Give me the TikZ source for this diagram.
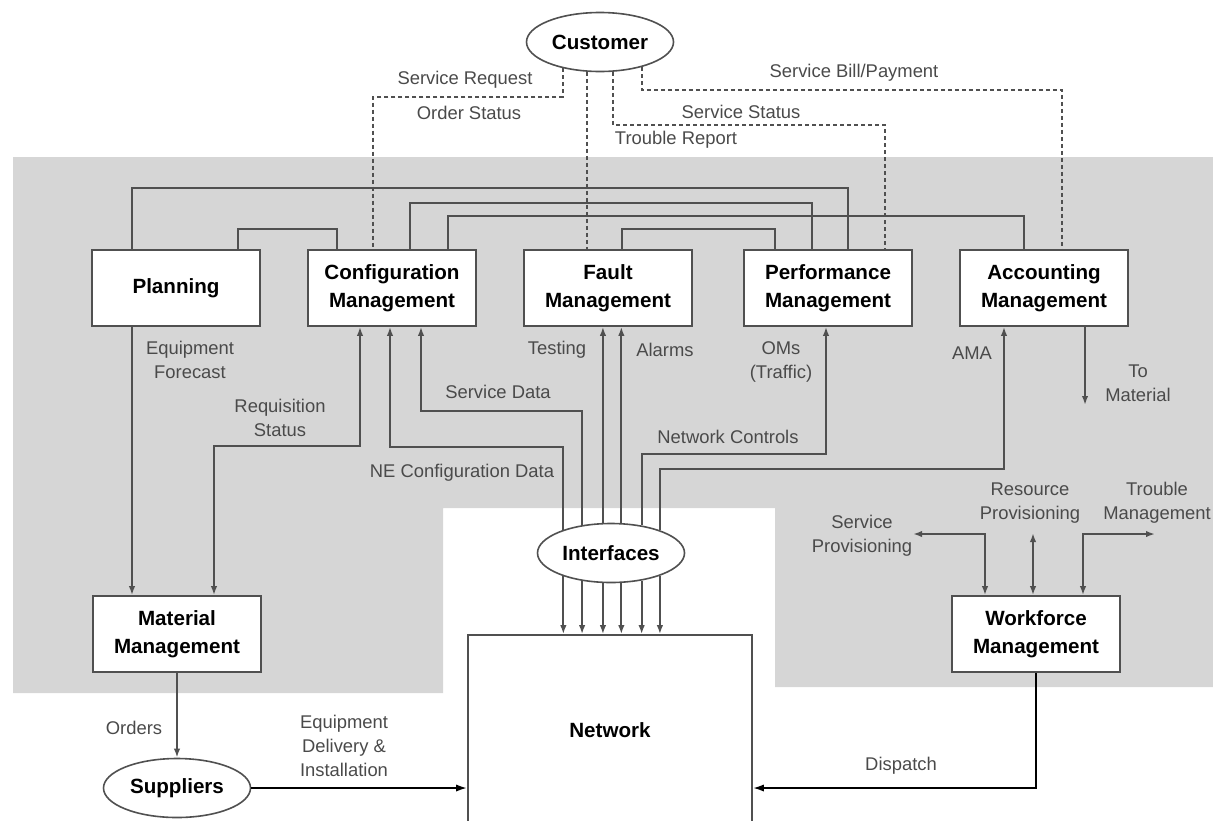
\documentclass[tikz,border=0pt]{standalone}
\usepackage{fontspec}
\setmainfont{Liberation Sans}
\usetikzlibrary{arrows.meta,shapes.geometric}
\definecolor{areagray}{HTML}{D6D6D6}
\definecolor{linegray}{HTML}{505050}
\definecolor{labelgray}{HTML}{4A4A4A}
\begin{document}
\begin{tikzpicture}[x=0.5pt,y=-0.5pt,
    >={Latex[length=4.5pt,width=3.2pt]},
    mbox/.style={draw=linegray,fill=white,line width=0.8pt,minimum width=84pt,minimum height=38pt,
      inner sep=0pt,align=center,font=\fontsize{10.3}{14}\selectfont\bfseries},
    oval/.style={ellipse,draw=linegray,fill=white,line width=0.8pt,minimum width=73.5pt,minimum height=29.5pt,
      inner sep=0pt,font=\fontsize{10.3}{14}\selectfont\bfseries},
    lbl/.style={inner sep=0pt,align=center,text=labelgray,font=\fontsize{9.2}{12}\selectfont},
    link/.style={draw=linegray,line width=0.9pt},
    dots/.style={draw=linegray,line width=0.9pt,dash pattern=on 2pt off 1.5pt},
    feed/.style={draw=black,line width=1pt,>={Latex[length=5.5pt,width=3.6pt]}}]
    \useasboundingbox (0,0) rectangle (1213,820);

    % grauer Bereich
    \fill[areagray] (13,157) -- (1213,157) -- (1213,687) -- (775,687) -- (775,508) -- (443,508)
      -- (443,693) -- (13,693) -- cycle;

    % Bloecke
    \node[oval] (cust) at (600,42) {Customer};
    \node[mbox] (plan) at (176,288) {Planning};
    \node[mbox] (conf) at (392,288) {Configuration\\Management};
    \node[mbox] (fault) at (608,288) {Fault\\Management};
    \node[mbox] (perf) at (828,288) {Performance\\Management};
    \node[mbox] (acc) at (1044,288) {Accounting\\Management};
    \node[oval] (intf) at (611,553) {Interfaces};
    \node[mbox] (mat) at (177,634) {Material\\Management};
    \node[mbox] (wfm) at (1036,634) {Workforce\\Management};
    \node[mbox,minimum width=142pt,minimum height=95pt] (net) at (610,730) {Network};
    \node[oval] (supp) at (177,788) {Suppliers};

    % Verbindungen oben
    \draw[link] (plan.north -| 132,0) -- (132,188) -- (848,188) -- (perf.north -| 848,0);
    \draw[link] (plan.north -| 238,0) -- (238,229) -- (337,229) -- (conf.north -| 337,0);
    \draw[link] (conf.north -| 410,0) -- (410,203) -- (812,203) -- (perf.north -| 812,0);
    \draw[link] (conf.north -| 448,0) -- (448,216) -- (1024,216) -- (acc.north -| 1024,0);
    \draw[link] (fault.north -| 622,0) -- (622,229) -- (775,229) -- (perf.north -| 775,0);

    % Kunde
    \draw[dots] (cust.215) |- (373,97) -- (conf.north -| 373,0);
    \draw[dots] (cust.246) -- (cust.246 |- fault.north);
    \draw[dots] (cust.294) |- (885,125) -- (perf.north -| 885,0);
    \draw[dots] (cust.329) |- (1062,90) -- (acc.north -| 1062,0);
    \node[lbl] (lsreq) at (465,80) {Service Request};
    \node[lbl] (lostat) at (469,113) {Order Status};
    \node[lbl] (lbill) at (854,73) {Service Bill/Payment};
    \node[lbl] (lsstat) at (741,112) {Service Status};
    \node[lbl] (ltrep) at (676,140) {Trouble Report};

    % Verbindungen unten
    \draw[link,->] (plan.south -| 132,0) -- (mat.north -| 132,0);
    \draw[link,<->] (conf.south -| 360,0) -- (360,446) -- (214,446) -- (mat.north -| 214,0);
    \draw[link,->] (intf.154) |- (390,447) -- (conf.south -| 390,0);
    \draw[link,->] (intf.136) |- (421,411) -- (conf.south -| 421,0);
    \draw[link,->] (intf.105) -- (intf.105 |- fault.south);
    \draw[link,->] (intf.71) -- (intf.71 |- fault.south);
    \draw[link,->] (intf.42) |- (826,454) -- (perf.south -| 826,0);
    \draw[link,->] (intf.25) |- (1004,469) -- (acc.south -| 1004,0);
    \coordinate (tomat) at (1085,405);
    \draw[link,->] (acc.south -| tomat) -- (tomat);

    % Schnittstellen zum Netz
    \draw[link,->] (intf.206) -- (intf.206 |- net.north);
    \draw[link,->] (intf.224) -- (intf.224 |- net.north);
    \draw[link,->] (intf.255) -- (intf.255 |- net.north);
    \draw[link,->] (intf.289) -- (intf.289 |- net.north);
    \draw[link,->] (intf.318) -- (intf.318 |- net.north);
    \draw[link,->] (intf.335) -- (intf.335 |- net.north);

    \node[lbl] (lfcst) at (190,360) {Equipment\\Forecast};
    \node[lbl] (lreq) at (280,418) {Requisition\\Status};
    \node[lbl] (lnecd) at (462,473) {NE Configuration Data};
    \node[lbl] (lsdat) at (498,392) {Service Data};
    \node[lbl] (ltest) at (557,350) {Testing};
    \node[lbl] (lalarm) at (665,350) {Alarms};
    \node[lbl] (loms) at (781,362) {OMs\\(Traffic)};
    \node[lbl] (lnctl) at (728,437) {Network Controls};
    \node[lbl] (lama) at (972,353) {AMA};
    \node[lbl] (ltomat) at (1138,383) {To\\Material};

    % Workforce
    \coordinate (sprov) at (913,534);
    \coordinate (rprov) at (1033,533);
    \coordinate (tmgmt) at (1155,534);
    \draw[link,<->] (sprov) -| (wfm.north -| 985,0);
    \draw[link,<->] (rprov) -- (wfm.north -| rprov);
    \draw[link,<->] (tmgmt) -| (wfm.north -| 1083,0);
    \node[lbl] (lsprov) at (862,536) {Service\\Provisioning};
    \node[lbl] (lrprov) at (1030,503) {Resource\\Provisioning};
    \node[lbl] (ltmgmt) at (1157,503) {Trouble\\Management};

    % Material, Lieferanten, Netz
    \draw[link,->] (mat.south) -- (supp.north);
    \draw[feed,->] (supp.east) -- (supp.east -| net.west);
    \draw[feed,->] (wfm.south) |- (net.east |- supp.east);
    \node[lbl] (lord) at (134,728) {Orders};
    \node[lbl] (ldeliv) at (344,746) {Equipment\\Delivery \&\\Installation};
    \node[lbl] (ldisp) at (901,766) {Dispatch};
\end{tikzpicture}
\end{document}
